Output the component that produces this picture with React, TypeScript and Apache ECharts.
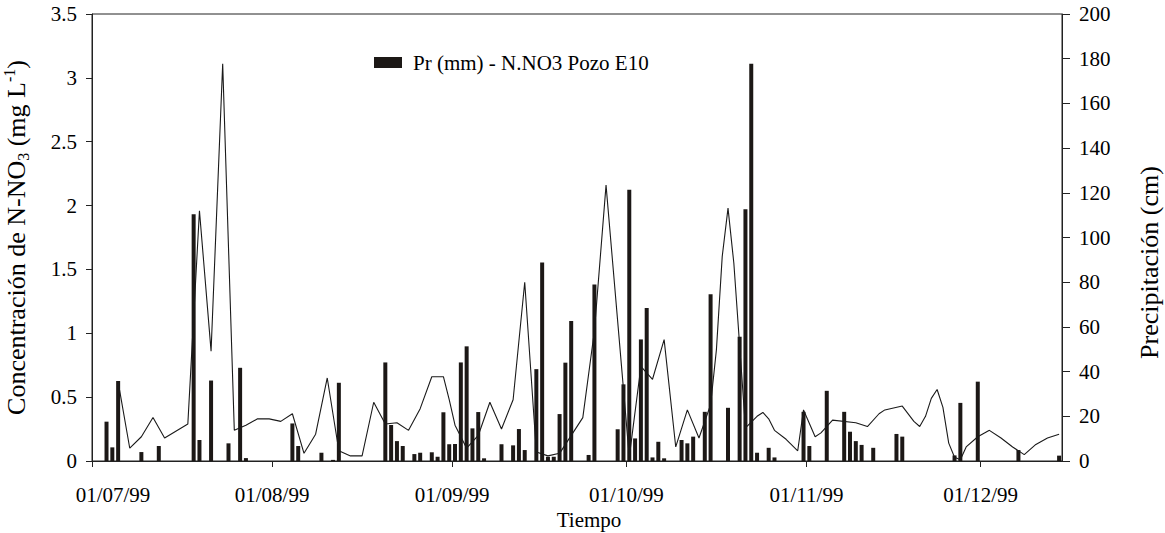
import React, { useEffect, useRef } from "react";
import * as echarts from "echarts";

// Precipitation (right axis)
const precipDates = [
  "1999-07-03", "1999-07-04", "1999-07-05", "1999-07-09", "1999-07-12", "1999-07-18", "1999-07-19",
  "1999-07-21", "1999-07-24", "1999-07-26", "1999-07-27", "1999-08-04", "1999-08-05", "1999-08-09",
  "1999-08-11", "1999-08-12", "1999-08-20", "1999-08-21", "1999-08-22", "1999-08-23", "1999-08-25",
  "1999-08-26", "1999-08-28", "1999-08-29", "1999-08-30", "1999-08-31", "1999-09-01", "1999-09-02",
  "1999-09-03", "1999-09-04", "1999-09-05", "1999-09-06", "1999-09-09", "1999-09-11", "1999-09-12",
  "1999-09-13", "1999-09-15", "1999-09-16", "1999-09-17", "1999-09-18", "1999-09-19", "1999-09-20",
  "1999-09-21", "1999-09-24", "1999-09-25", "1999-09-29", "1999-09-30", "1999-10-01", "1999-10-02",
  "1999-10-03", "1999-10-04", "1999-10-05", "1999-10-06", "1999-10-07", "1999-10-10", "1999-10-11",
  "1999-10-12", "1999-10-14", "1999-10-15", "1999-10-18", "1999-10-20", "1999-10-21", "1999-10-22",
  "1999-10-23", "1999-10-25", "1999-10-26", "1999-10-31", "1999-11-01", "1999-11-04", "1999-11-07",
  "1999-11-08", "1999-11-09", "1999-11-10", "1999-11-12", "1999-11-16", "1999-11-17", "1999-11-26",
  "1999-11-27", "1999-11-30", "1999-12-07", "1999-12-14",
];
const precipValues = [
  17.6, 6.1, 35.8, 4, 6.7, 110.4, 9.4,
  36, 7.9, 41.7, 1.3, 16.8, 6.7, 3.7,
  0.5, 35, 44.1, 16.1, 8.9, 6.7, 3.1,
  3.7, 3.9, 1.9, 21.8, 7.5, 7.6, 44.1,
  51.3, 14.6, 21.9, 1.2, 7.5, 7, 14.3,
  4.9, 41.1, 88.8, 1.9, 1.9, 21, 44,
  62.6, 2.7, 79, 14.2, 34.3, 121.4, 10.1,
  54.4, 68.5, 1.6, 8.6, 1.2, 9.4, 7.9,
  10.9, 22, 74.6, 23.8, 55.6, 112.6, 177.7,
  3.7, 5.9, 1.6, 22, 6.7, 31.4, 22,
  13.1, 8.9, 7.2, 5.9, 12.1, 10.9, 2.5,
  26, 35.5, 4.9, 2.4,
];

// N-NO3 concentration (left axis)
const nitrateDates = [
  "1999-07-05", "1999-07-07", "1999-07-09", "1999-07-11", "1999-07-13", "1999-07-17", "1999-07-19",
  "1999-07-21", "1999-07-23", "1999-07-25", "1999-07-27", "1999-07-29", "1999-07-31", "1999-08-02",
  "1999-08-04", "1999-08-06", "1999-08-08", "1999-08-10", "1999-08-12", "1999-08-14", "1999-08-16",
  "1999-08-18", "1999-08-20", "1999-08-22", "1999-08-24", "1999-08-26", "1999-08-28", "1999-08-30",
  "1999-08-31", "1999-09-01", "1999-09-03", "1999-09-05", "1999-09-07", "1999-09-09", "1999-09-11",
  "1999-09-13", "1999-09-15", "1999-09-17", "1999-09-19", "1999-09-23", "1999-09-25", "1999-09-27",
  "1999-10-01", "1999-10-03", "1999-10-05", "1999-10-07", "1999-10-09", "1999-10-11", "1999-10-13",
  "1999-10-15", "1999-10-16", "1999-10-17", "1999-10-18", "1999-10-19", "1999-10-21", "1999-10-23",
  "1999-10-24", "1999-10-25", "1999-10-26", "1999-10-28", "1999-10-30", "1999-10-31", "1999-11-02",
  "1999-11-03", "1999-11-05", "1999-11-09", "1999-11-11", "1999-11-13", "1999-11-14", "1999-11-17",
  "1999-11-19", "1999-11-20", "1999-11-21", "1999-11-22", "1999-11-23", "1999-11-24", "1999-11-25",
  "1999-11-26", "1999-11-27", "1999-11-28", "1999-11-30", "1999-12-02", "1999-12-04", "1999-12-06",
  "1999-12-08", "1999-12-10", "1999-12-12", "1999-12-14",
];
const nitrateValues = [
  0.62, 0.1, 0.19, 0.34, 0.18, 0.29, 1.96,
  0.86, 3.11, 0.24, 0.28, 0.33, 0.33, 0.31,
  0.37, 0.06, 0.21, 0.65, 0.08, 0.04, 0.04,
  0.46, 0.29, 0.3, 0.24, 0.41, 0.66, 0.66,
  0.48, 0.28, 0.1, 0.2, 0.46, 0.25, 0.48,
  1.4, 0.07, 0.04, 0.06, 0.34, 1.02, 2.16,
  0.03, 0.74, 0.64, 0.95, 0.11, 0.4, 0.18,
  0.44, 0.87, 1.6, 1.98, 1.55, 0.26, 0.35,
  0.38, 0.33, 0.24, 0.17, 0.08, 0.4, 0.19,
  0.22, 0.32, 0.3, 0.27, 0.37, 0.4, 0.43,
  0.31, 0.27, 0.35, 0.49, 0.56, 0.42, 0.14,
  0.03, 0.01, 0.11, 0.19, 0.24, 0.18, 0.11,
  0.05, 0.13, 0.18, 0.21,
];

const xTickDates = ["1999-07-01", "1999-08-01", "1999-09-01", "1999-10-01", "1999-11-01", "1999-12-01"];
const xMin = "1999-07-01";
const xMax = "1999-12-15";
const seriesName = "Pr (mm) - N.NO3 Pozo E10";

const FONT = "Liberation Serif";
const HALF_DAY = 12 * 3600 * 1000;
const ts = (d: string) => Date.UTC(+d.slice(0, 4), +d.slice(5, 7) - 1, +d.slice(8, 10));
const fmt = (v: number) => {
  const d = new Date(v);
  const p = (n: number) => String(n).padStart(2, "0");
  return `${p(d.getUTCDate())}/${p(d.getUTCMonth() + 1)}/${String(d.getUTCFullYear()).slice(2)}`;
};

export default function App() {
  const ref = useRef<HTMLDivElement>(null);
  useEffect(() => {
    if (!ref.current) return;
    const chart = echarts.init(ref.current, undefined, { renderer: "svg" });
    const minTs = ts(xMin);
    // daily values are drawn in the middle of their day slot
    const barData = precipDates.map((d, i) => [ts(d) + HALF_DAY, precipValues[i]]);
    const lineData = nitrateDates.map((d, i) => [ts(d) + HALF_DAY, nitrateValues[i]]);
    const tickVals = xTickDates.map(ts);
    chart.setOption({
      animation: false,
      backgroundColor: "#fff",
      textStyle: { fontFamily: FONT, color: "#000" },
      grid: {
        left: 92,
        top: 14,
        width: 970,
        height: 447,
        show: true,
        borderColor: "#222",
        borderWidth: 1,
        containLabel: false,
        outerBoundsMode: "none",
      },
      legend: {
        data: [seriesName],
        left: 369,
        top: 47,
        icon: "rect",
        itemWidth: 28,
        itemHeight: 11,
        textStyle: { fontFamily: FONT, fontSize: 21, color: "#000", padding: [0, 0, 0, 6] },
      },
      xAxis: {
        type: "value",
        min: minTs,
        max: ts(xMax),
        name: "Tiempo",
        nameLocation: "middle",
        nameGap: 47,
        nameTextStyle: { fontFamily: FONT, fontSize: 21, color: "#000", padding: [0, 0, 0, 24] },
        axisLine: { show: true, onZero: false, lineStyle: { color: "#222", width: 1 } },
        axisTick: { show: true, inside: false, length: 6, customValues: tickVals, lineStyle: { color: "#222" } },
        axisLabel: {
          customValues: tickVals,
          margin: 23,
          fontFamily: FONT,
          fontSize: 21,
          color: "#000",
          formatter: (v: number) => (v === minTs ? `{first|${fmt(v)}}` : fmt(v)),
          rich: { first: { fontFamily: FONT, fontSize: 21, color: "#000", padding: [0, 0, 0, 42] } },
        },
        splitLine: { show: false },
      },
      yAxis: [
        {
          type: "value",
          min: 0,
          max: 3.5,
          interval: 0.5,
          position: "left",
          name: "Concentración de N-NO{sub|3} (mg L{sup|-1})",
          nameLocation: "middle",
          nameRotate: 90,
          nameGap: 61,
          nameTextStyle: {
            fontFamily: FONT,
            fontSize: 26,
            color: "#000",
            rich: {
              sub: { fontFamily: FONT, fontSize: 16, color: "#000", verticalAlign: "bottom", lineHeight: 30 },
              sup: { fontFamily: FONT, fontSize: 16, color: "#000", verticalAlign: "top", lineHeight: 16 },
            },
          },
          axisLine: { show: true, lineStyle: { color: "#222", width: 1 } },
          axisTick: { show: true, inside: false, length: 6, lineStyle: { color: "#222" } },
          axisLabel: { margin: 15, fontFamily: FONT, fontSize: 21, color: "#000" },
          splitLine: { show: false },
        },
        {
          type: "value",
          min: 0,
          max: 200,
          interval: 20,
          position: "right",
          name: "Precipitación (cm)",
          nameLocation: "middle",
          nameRotate: 90,
          nameGap: 74,
          nameTextStyle: { fontFamily: FONT, fontSize: 26, color: "#000", padding: [0, 50, 0, 0] },
          axisLine: { show: true, lineStyle: { color: "#222", width: 1 } },
          axisTick: { show: true, inside: false, length: 8, lineStyle: { color: "#222" } },
          axisLabel: { margin: 17, fontFamily: FONT, fontSize: 21, color: "#000" },
          splitLine: { show: false },
        },
      ],
      series: [
        {
          name: seriesName,
          type: "bar",
          yAxisIndex: 1,
          data: barData,
          barWidth: 4,
          itemStyle: { color: "#1c1816" },
        },
        {
          name: "N-NO3",
          type: "line",
          yAxisIndex: 0,
          data: lineData,
          symbol: "none",
          lineStyle: { color: "#1a1a1a", width: 1.1 },
          itemStyle: { color: "#1a1a1a" },
        },
      ],
    });
    return () => chart.dispose();
  }, []);
  return <div ref={ref} style={{ position: "fixed", left: 0, top: 0, width: 1165, height: 533 }} />;
}
